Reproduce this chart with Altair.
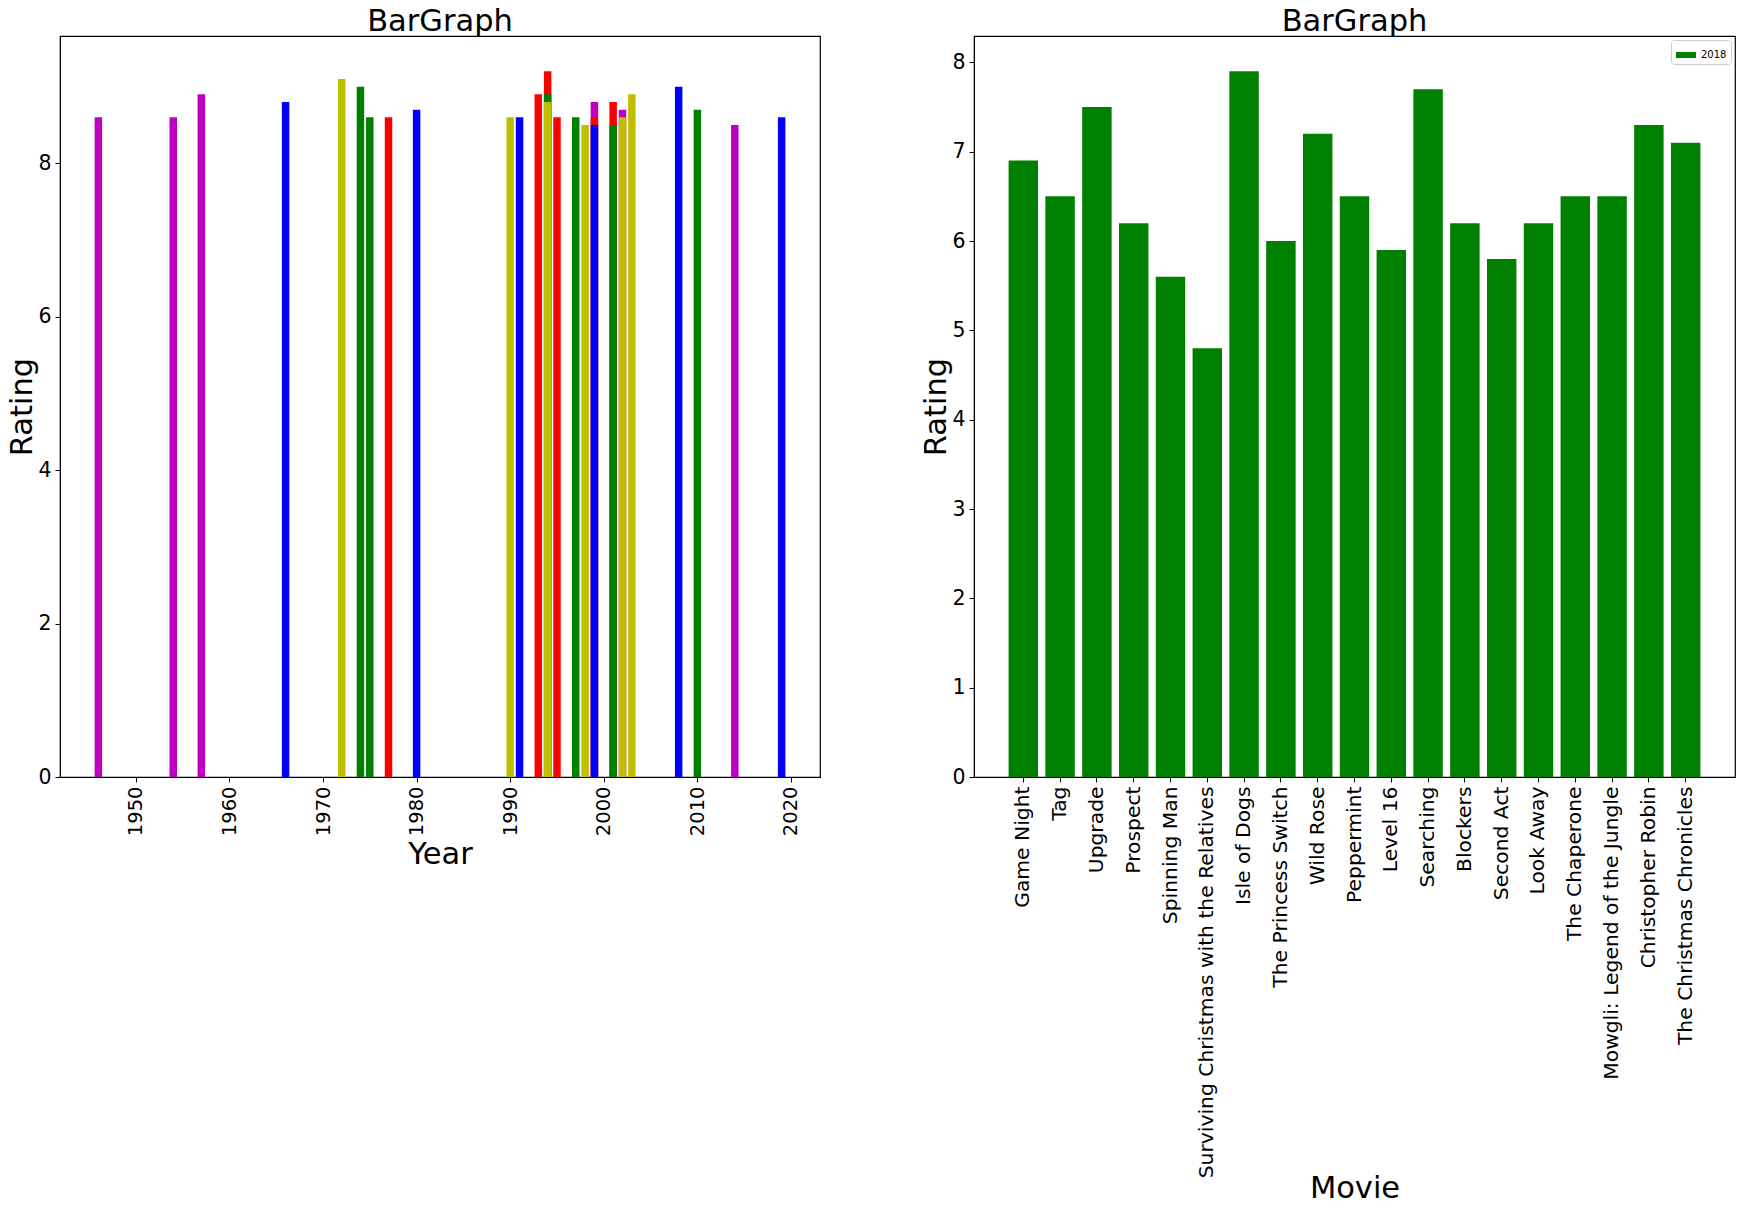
import altair as alt
import pandas as pd

# Left chart: top movies by year
years = [1946, 1954, 1957, 1966, 1972, 1974, 1975, 1977, 1980, 1990, 1991, 1993,
         1994, 1994, 1994, 1995, 1997, 1998, 1999, 1999, 1999, 2001, 2001, 2002,
         2002, 2003, 2008, 2010, 2014, 2019]
year_ratings = [8.6, 8.6, 8.9, 8.8, 9.1, 9.0, 8.6, 8.6, 8.7, 8.6, 8.6, 8.9,
                9.2, 8.9, 8.8, 8.6, 8.6, 8.5, 8.8, 8.6, 8.5, 8.8, 8.5, 8.7,
                8.6, 8.9, 9.0, 8.7, 8.5, 8.6]
year_colors = ["m", "m", "m", "b", "y", "g", "g", "r", "b", "y", "b", "r",
               "r", "g", "y", "r", "g", "y", "m", "r", "b", "r", "g", "m",
               "y", "y", "b", "g", "m", "b"]
year_ticks = [1950, 1960, 1970, 1980, 1990, 2000, 2010, 2020]

# Right chart: 2018 movies
movies = ["Game Night", "Tag", "Upgrade", "Prospect", "Spinning Man",
          "Surviving Christmas with the Relatives", "Isle of Dogs",
          "The Princess Switch", "Wild Rose", "Peppermint", "Level 16",
          "Searching", "Blockers", "Second Act", "Look Away", "The Chaperone",
          "Mowgli: Legend of the Jungle", "Christopher Robin",
          "The Christmas Chronicles"]
movie_ratings = [6.9, 6.5, 7.5, 6.2, 5.6, 4.8, 7.9, 6.0, 7.2, 6.5, 5.9,
                 7.7, 6.2, 5.8, 6.2, 6.5, 6.5, 7.3, 7.1]
movie_year = "2018"

color_codes = ["m", "b", "y", "g", "r"]
color_hex = ["#bf00bf", "#0000ff", "#bfbf00", "#008000", "#ff0000"]

FONT = "DejaVu Sans"

df_left = pd.DataFrame({"Year": years, "Rating": year_ratings, "c": year_colors,
                        "order": list(range(len(years)))})
df_right = pd.DataFrame({"Movie": movies, "Rating": movie_ratings,
                         "yr": [movie_year] * len(movies)})

left = alt.Chart(df_left).transform_calculate(
    x0="datum.Year - 0.4", x1="datum.Year + 0.4"
).mark_bar().encode(
    x=alt.X("x0:Q", title="Year",
            scale=alt.Scale(domain=[1941.9, 2023.1], nice=False, zero=False),
            axis=alt.Axis(values=year_ticks, labelAngle=270, format="d",
                          labelFontSize=19.5, titlePadding=4)),
    x2="x1:Q",
    y=alt.Y("Rating:Q", title="Rating",
            scale=alt.Scale(domain=[0, 9.66], nice=False),
            axis=alt.Axis(values=[0, 2, 4, 6, 8], titlePadding=0)),
    y2=alt.datum(0),
    color=alt.Color("c:N", scale=alt.Scale(domain=color_codes, range=color_hex),
                    legend=None),
    order=alt.Order("order:Q"),
).properties(width=760, height=741, title="BarGraph")

legend_shape = "M-1,-0.3L1,-0.3L1,0.3L-1,0.3Z"

right = alt.Chart(df_right).mark_bar().encode(
    x=alt.X("Movie:N", title="Movie", sort=None,
            scale=alt.Scale(paddingInner=0.2, paddingOuter=0.94),
            axis=alt.Axis(labelAngle=270, labelLimit=1000, labelFontSize=20.3,
                          titlePadding=196)),
    y=alt.Y("Rating:Q", title="Rating",
            scale=alt.Scale(domain=[0, 8.295], nice=False),
            axis=alt.Axis(values=[0, 1, 2, 3, 4, 5, 6, 7, 8], titlePadding=0)),
    color=alt.Color("yr:N", scale=alt.Scale(domain=[movie_year], range=["#008000"]),
                    legend=alt.Legend(title=None, orient="top-right",
                                      symbolType=legend_shape, symbolSize=400,
                                      labelFontSize=10, labelFont=FONT,
                                      labelColor="#000000",
                                      strokeColor="#cccccc", padding=4,
                                      cornerRadius=3, offset=4,
                                      fillColor="white")),
).properties(width=761, height=741, title="BarGraph")

chart = alt.hconcat(left, right, spacing=100).resolve_scale(
    color="independent"
).resolve_legend(
    color="independent"
).configure(
    font=FONT,
    padding={"left": 7, "top": 5, "right": 5, "bottom": 5},
).configure_view(
    stroke="#000000", strokeWidth=1.2
).configure_axis(
    grid=False,
    domainColor="#000000",
    tickColor="#000000",
    tickSize=5,
    labelFontSize=20.5,
    labelFont=FONT,
    labelColor="#000000",
    titleFontSize=30.5,
    titleFont=FONT,
    titleFontWeight="normal",
    titleColor="#000000",
    labelPadding=4,
    titlePadding=6,
).configure_title(
    fontSize=30.5, font=FONT, fontWeight="normal", color="#000000", offset=-1
)

chart.save("out.html", embed_options={"renderer": "svg", "actions": False})
